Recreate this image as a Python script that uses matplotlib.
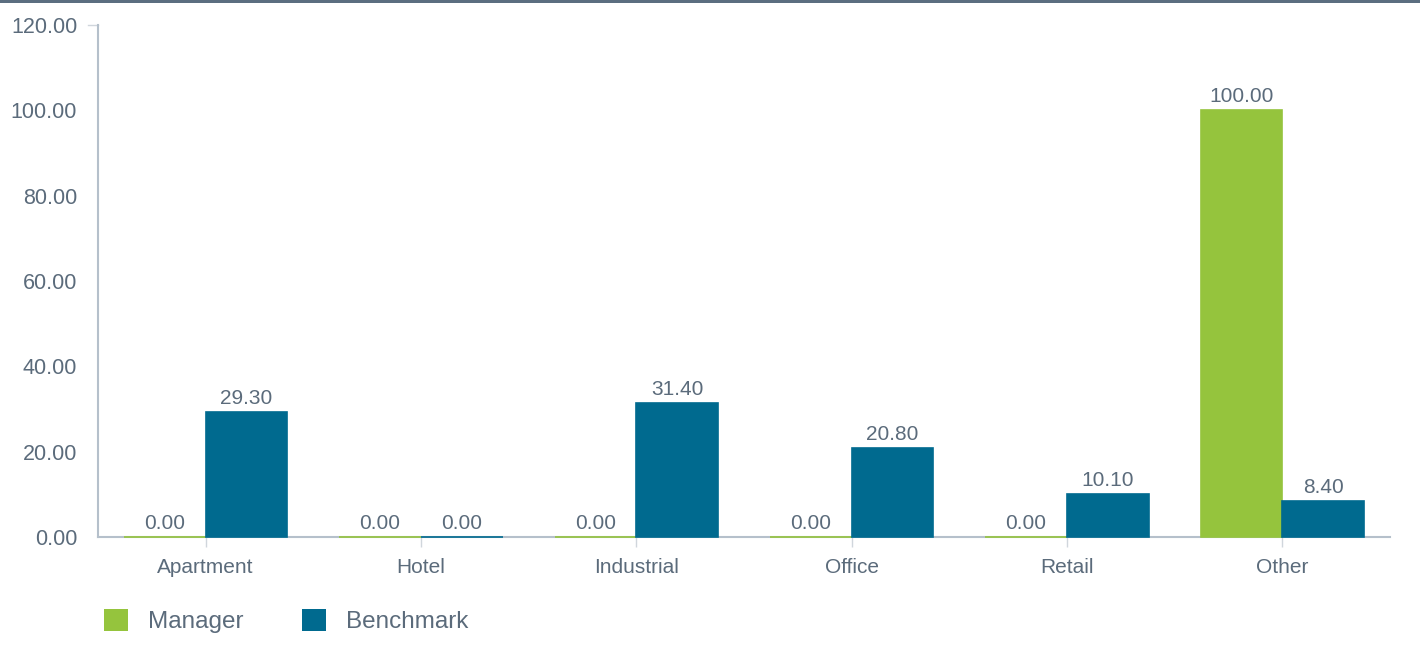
import matplotlib
matplotlib.use("Agg")
import matplotlib.pyplot as plt
import numpy as np
from matplotlib.patches import Rectangle

categories = ["Apartment", "Hotel", "Industrial", "Office", "Retail", "Other"]
manager = [0.00, 0.00, 0.00, 0.00, 0.00, 100.00]
benchmark = [29.30, 0.00, 31.40, 20.80, 10.10, 8.40]
series_names = ["Manager", "Benchmark"]
yticks = [0, 20, 40, 60, 80, 100, 120]

GREEN = "#95c43d"
BLUE = "#006a8f"
TEXT = "#5b6b7b"
AXIS = "#b5c0cb"

plt.rcParams["font.family"] = ["Liberation Sans", "DejaVu Sans"]

fig = plt.figure(figsize=(14.2, 6.46), dpi=100)
ax = fig.add_axes([98 / 1420, 1 - 537 / 646, 1292 / 1420, 512 / 646])

x = np.arange(len(categories))
w = 0.38
b1 = ax.bar(x - w / 2, manager, width=w, color=GREEN, edgecolor=GREEN, linewidth=1.2,
            zorder=3, clip_on=False)
b2 = ax.bar(x + w / 2, benchmark, width=w, color=BLUE, edgecolor=BLUE, linewidth=1.2,
            zorder=3, clip_on=False)

for bars, vals in ((b1, manager), (b2, benchmark)):
    for r, v in zip(bars, vals):
        ax.annotate(f"{v:.2f}", (r.get_x() + r.get_width() / 2, v), xytext=(0, 3),
                    textcoords="offset points", ha="center", va="bottom",
                    fontsize=15, color=TEXT)

ax.set_xlim(-0.5, len(categories) - 0.5)
ax.set_ylim(0, 120)
ax.set_yticks(yticks)
ax.set_yticklabels([f"{t:.2f}" for t in yticks], fontsize=15.5, color=TEXT)
ax.set_xticks(x)
ax.set_xticklabels(categories, fontsize=15, color=TEXT)
ax.tick_params(axis="x", length=7, width=1, color="#d0d6dc", pad=8)
ax.tick_params(axis="y", length=0, pad=15)

for s in ("top", "right"):
    ax.spines[s].set_visible(False)
ax.spines["left"].set_color(AXIS)
ax.spines["left"].set_linewidth(1.5)
ax.spines["bottom"].set_color(AXIS)
ax.spines["bottom"].set_linewidth(1.5)

# small tick at top of y axis
ax.plot([-0.008, 0], [120, 120], transform=ax.get_yaxis_transform(), color="#d0d6dc",
        lw=1, clip_on=False)

# top border
fig.add_artist(Rectangle((0, 1 - 3 / 646), 1, 3 / 646, transform=fig.transFigure,
                         facecolor="#5b6e80", edgecolor="none"))

# legend
handles = [Rectangle((0, 0), 1, 1, facecolor=GREEN), Rectangle((0, 0), 1, 1, facecolor=BLUE)]
leg = fig.legend(handles, series_names, loc="lower left", bbox_to_anchor=(104 / 1420, 13 / 646),
                 ncol=2, frameon=False, fontsize=17.5, handlelength=1.0, handleheight=1.0,
                 handletextpad=0.82, columnspacing=2.4, labelcolor=TEXT, borderpad=0,
                 borderaxespad=0)

fig.savefig("out.png", dpi=100)
